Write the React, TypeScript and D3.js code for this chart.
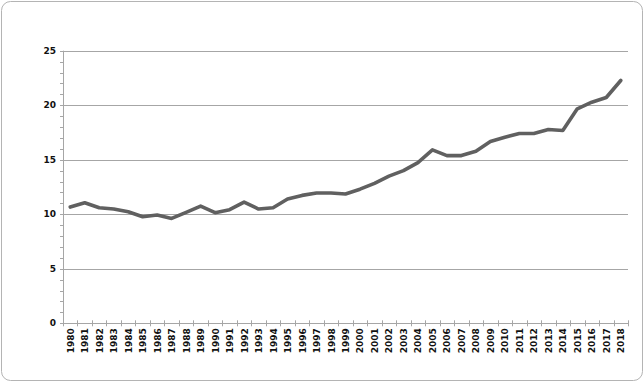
import React from "react";
import * as d3 from "d3";

const years = [
  "1980","1981","1982","1983","1984","1985","1986","1987","1988","1989",
  "1990","1991","1992","1993","1994","1995","1996","1997","1998","1999",
  "2000","2001","2002","2003","2004","2005","2006","2007","2008","2009",
  "2010","2011","2012","2013","2014","2015","2016","2017","2018",
];
const values = [
  10.66, 11.06, 10.6, 10.48, 10.23, 9.77, 9.93, 9.62, 10.17, 10.75,
  10.14, 10.42, 11.12, 10.48, 10.6, 11.4, 11.73, 11.95, 11.95, 11.86,
  12.3, 12.84, 13.5, 14.0, 14.74, 15.9, 15.38, 15.38, 15.78, 16.67,
  17.06, 17.4, 17.4, 17.77, 17.68, 19.67, 20.28, 20.71, 22.27,
];
const yTicks = [0, 5, 10, 15, 20, 25];
const yMinor = d3.range(0, 26, 1);

export default function App() {
  const W = 644, H = 382;
  const left = 63, right = 628, top = 50.7, bottom = 323.3;
  const x = d3.scaleBand<string>().domain(years).range([left, right]).padding(0);
  const y = d3.scaleLinear().domain([0, 25]).range([bottom, top]);
  const line = d3.line<number>()
    .x((_, i) => (x(years[i]) as number) + x.bandwidth() / 2)
    .y((d) => y(d));
  const boundaries = d3.range(0, years.length + 1).map((i) => left + i * x.bandwidth());
  const font = "'DejaVu Sans', Verdana, sans-serif";
  return (
    <svg width={W} height={H} style={{ position: "absolute", left: 0, top: 0, display: "block" }}>
      <rect x={1.5} y={1.5} width={W - 3} height={H - 3} rx={9} ry={9} fill="#fff" stroke="#b4b4b4" strokeWidth={1} />
      {yTicks.filter((t) => t > 0).map((t) => (
        <line key={"g" + t} x1={left} x2={right} y1={Math.round(y(t)) + 0.5} y2={Math.round(y(t)) + 0.5} stroke="#a6a6a6" strokeWidth={1} />
      ))}
      {yMinor.map((t) => (
        <line key={"m" + t} x1={left - 3} x2={left} y1={Math.round(y(t)) + 0.5} y2={Math.round(y(t)) + 0.5} stroke="#a6a6a6" strokeWidth={1} />
      ))}
      <line x1={left + 0.5} x2={left + 0.5} y1={top} y2={bottom + 0.5} stroke="#a6a6a6" strokeWidth={1} />
      <line x1={left - 3} x2={right} y1={Math.round(bottom) + 0.5} y2={Math.round(bottom) + 0.5} stroke="#a6a6a6" strokeWidth={1} />
      {boundaries.map((b, i) => (
        <line key={"xt" + i} x1={Math.round(b) + 0.5} x2={Math.round(b) + 0.5} y1={bottom - 3} y2={bottom + 3} stroke="#a6a6a6" strokeWidth={1} />
      ))}
      {yTicks.map((t) => (
        <text key={"yl" + t} x={56} y={y(t)} dy="0.35em" textAnchor="end" fontFamily={font} fontWeight="bold" fontSize={9} fill="#111">{t}</text>
      ))}
      {years.map((yr) => {
        const cx = (x(yr) as number) + x.bandwidth() / 2;
        return (
          <text key={yr} transform={`translate(${cx + 3.5},${bottom + 5}) rotate(-90)`} textAnchor="end" fontFamily={font} fontWeight="bold" fontSize={9} fill="#111">{yr}</text>
        );
      })}
      <path d={line(values) || ""} fill="none" stroke="#606060" strokeWidth={3.6} strokeLinejoin="round" strokeLinecap="round" />
    </svg>
  );
}
